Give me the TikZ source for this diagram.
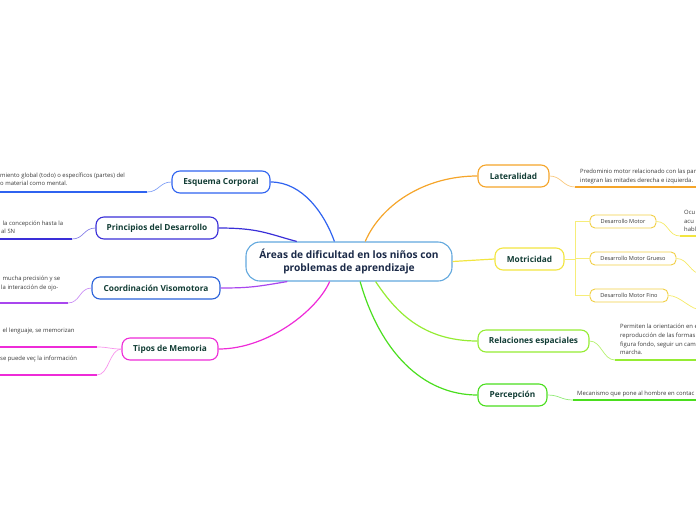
\documentclass[tikz,border=0pt]{standalone}
\usepackage{fontspec}
\setmainfont{Open Sans}
\definecolor{ink}{HTML}{123D35}
\definecolor{navy}{HTML}{1B2A48}
\definecolor{leafgray}{HTML}{3A3A3A}
\definecolor{ctrblue}{HTML}{62A8DE}
\definecolor{esqblue}{HTML}{2F63F0}
\definecolor{prinblue}{HTML}{3A2FD8}
\definecolor{coordblue}{HTML}{2A62DA}
\definecolor{coordline}{HTML}{A946EE}
\definecolor{memo}{HTML}{EE2BD8}
\definecolor{latorange}{HTML}{F5A52A}
\definecolor{motyellow}{HTML}{F2E540}
\definecolor{subgold}{HTML}{F1CF45}
\definecolor{relgreen}{HTML}{95EC33}
\definecolor{pergreen}{HTML}{4ADE1E}
\tikzset{
  topic/.style={draw, rounded corners=8, line width=1.1, fill=white, minimum height=22, inner sep=0,
    font=\fontsize{8.3}{10}\selectfont\bfseries, text=ink},
  subtopic/.style={draw=subgold, rounded corners=5, line width=0.9, fill=white, minimum height=13, inner sep=0,
    font=\fontsize{5.6}{6.5}\selectfont, text=leafgray},
  leaf/.style={font=\fontsize{5.9}{8.6}\selectfont, text=leafgray, align=left, inner sep=0, anchor=south west},
  branch/.style={line width=1.2},
  twig/.style={line width=0.7},
  underline/.style={line width=1.8}
}
\begin{document}
\begin{tikzpicture}[x=1pt,y=-1pt]
\useasboundingbox (0,0) rectangle (696,520);
\clip (0,0) rectangle (696,520);
\node [draw=ctrblue, line width=1.1, rounded corners=14, fill=white, minimum width=206, minimum height=39, inner sep=0,
  align=center, font=\fontsize{10.2}{13}\selectfont\bfseries, text=navy] (ctr) at (349,261.5)
  {Áreas de dificultad en los niños con\\problemas de aprendizaje};
\node [topic, draw=esqblue, minimum width=98] (esq) at (221,182) {Esquema Corporal};
\node [topic, draw=prinblue, minimum width=122] (prin) at (157,228) {Principios del Desarrollo};
\node [topic, draw=coordblue, minimum width=128] (coord) at (156,288) {Coordinación Visomotora};
\node [topic, draw=memo, minimum width=96] (mem) at (170,349) {Tipos de Memoria};
\node [topic, draw=latorange, minimum width=71] (lat) at (513.5,176) {Lateralidad};
\node [topic, draw=motyellow, minimum width=69] (mot) at (529.5,259) {Motricidad};
\node [topic, draw=relgreen, minimum width=111] (rel) at (533.5,341) {Relaciones espaciales};
\node [topic, draw=pergreen, minimum width=69] (per) at (512.5,395) {Percepción};
\foreach \name/\txt/\y/\w in {dm/Desarrollo Motor/221.5/66, dmg/Desarrollo Motor Grueso/258.5/86, dmf/Desarrollo Motor Fino/295.5/78}
  \node [subtopic, minimum width=\w] (\name) at (590+\w/2,\y) {\txt};
\draw [branch, esqblue] (esq.east) .. controls +(32,0) and +(-10,-28) .. (ctr.126);
\draw [branch, prinblue] (prin.east) .. controls +(40,0) and +(-30,-8) .. (ctr.159);
\draw [branch, coordline] (coord.east) .. controls +(30,0) and +(-30,5) .. (ctr.198);
\draw [branch, memo] (mem.east) .. controls +(50,0) and +(-12,28) .. (ctr.226);
\draw [branch, latorange] (ctr.51) .. controls +(15,-35) and +(-55,0) .. (lat.west);
\draw [branch, motyellow] (ctr.east) -- (mot.west);
\draw [branch, relgreen] (ctr.323) .. controls +(20,30) and +(-55,0) .. (rel.west);
\draw [branch, pergreen] (ctr.299) .. controls +(20,70) and +(-55,0) .. (per.west);
\coordinate (fork) at (575,259);
\draw [twig, motyellow!70] (mot.east) -- (fork);
\foreach \name in {dm,dmg,dmf} \draw [twig, motyellow!70] (fork) |- (\name.west);
\coordinate (esqA) at (147,192); \coordinate (esqB) at (0,192);
\coordinate (prinA) at (72,239); \coordinate (prinB) at (0,239);
\coordinate (coordA) at (68,303); \coordinate (coordB) at (0,303);
\coordinate (memA) at (97,347); \coordinate (memB) at (0,347);
\coordinate (memC) at (97,375); \coordinate (memD) at (0,375);
\coordinate (latA) at (575,187); \coordinate (latB) at (700,187);
\coordinate (dmA) at (680,236); \coordinate (dmB) at (700,236);
\coordinate (dmgA) at (702,274);
\coordinate (dmfA) at (702,310);
\coordinate (relA) at (615,360); \coordinate (relB) at (700,360);
\coordinate (perA) at (573,400); \coordinate (perB) at (700,400);
\draw [twig, esqblue!60] (esq.west) .. controls +(-12,0) and +(12,0) .. (esqA);
\draw [underline, esqblue] (esqA) -- (esqB);
\draw [twig, prinblue!60] (prin.west) .. controls +(-12,0) and +(12,0) .. (prinA);
\draw [underline, prinblue] (prinA) -- (prinB);
\draw [twig, coordline!60] (coord.west) .. controls +(-12,0) and +(12,0) .. (coordA);
\draw [underline, coordline] (coordA) -- (coordB);
\draw [twig, memo!50] (mem.west) .. controls +(-12,0) and +(12,0) .. (memA);
\draw [twig, memo!50] (mem.west) .. controls +(-12,0) and +(12,0) .. (memC);
\draw [underline, memo] (memA) -- (memB);
\draw [underline, memo] (memC) -- (memD);
\draw [twig, latorange!60] (lat.east) .. controls +(12,0) and +(-12,0) .. (latA);
\draw [underline, latorange] (latA) -- (latB);
\draw [twig, motyellow!80] (dm.east) .. controls +(12,0) and +(-12,0) .. (dmA);
\draw [underline, motyellow] (dmA) -- (dmB);
\draw [twig, motyellow!80] (dmg.east) .. controls +(12,0) and +(-12,0) .. (dmgA);
\draw [twig, motyellow!80] (dmf.east) .. controls +(12,0) and +(-12,0) .. (dmfA);
\draw [twig, relgreen!70] (rel.east) .. controls +(12,0) and +(-12,0) .. (relA);
\draw [underline, relgreen] (relA) -- (relB);
\draw [twig, pergreen!60] (per.east) .. controls +(12,0) and +(-12,0) .. (perA);
\draw [underline, pergreen] (perA) -- (perB);
\node [leaf] (esqtxt) at (0,186) {miento global  (todo) o específicos (partes) del\\o material como mental.};
\node [leaf] (printxt) at (1,234) {\ la concepción hasta la\\al SN};
\node [leaf] (coordtxt) at (1,291) {\ mucha precisión y se\\la interacción de ojo-};
\node [leaf] (memtxt) at (1,334) {\ el lenguaje, se memorizan};
\node [leaf] (memtxtb) at (0,362) {se puede veç la información};
\node [leaf] (lattxt) at (580,184) {Predominio motor relacionado con las par\\integran las mitades derecha e izquierda.};
\node [leaf] (dmtxt) at (684,232) {Ocu\\acu\\habl};
\node [leaf] (reltxt) at (620,355) {Permiten la orientación en e\\reproducción de las formas\\figura fondo, seguir un cam\\marcha.};
\node [leaf] (pertxt) at (577,397) {Mecanismo que pone al hombre en contac};
\end{tikzpicture}
\end{document}
